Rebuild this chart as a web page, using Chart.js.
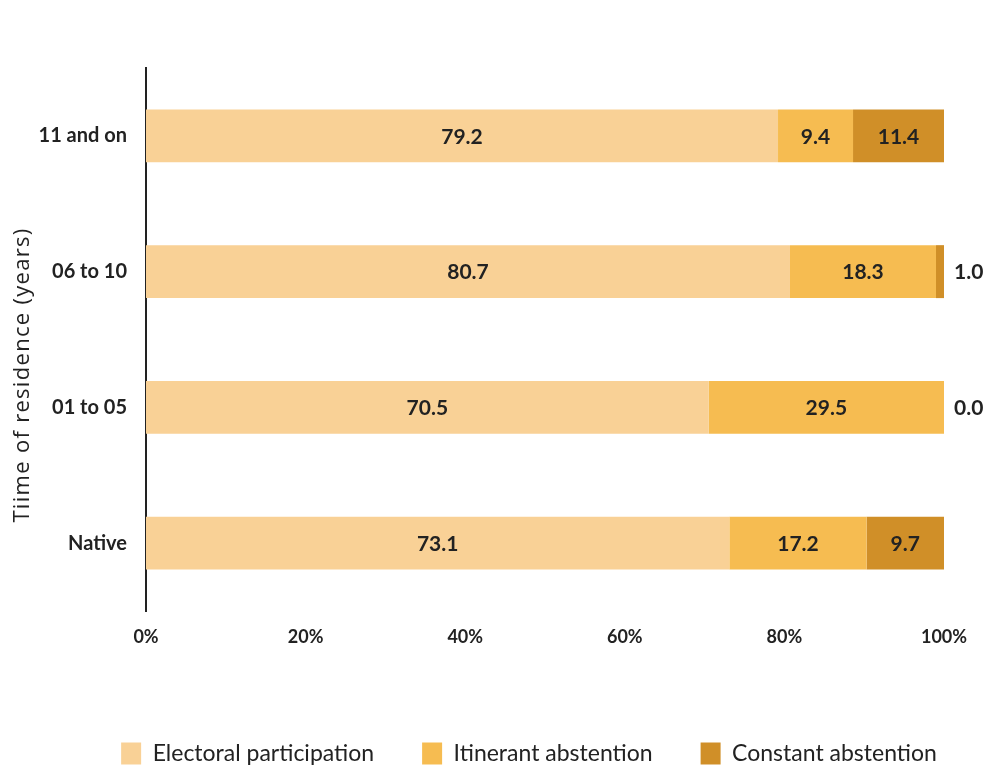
<!DOCTYPE html>
<html>
<head>
<meta charset="utf-8">
<script src="https://cdn.jsdelivr.net/npm/chart.js@4/dist/chart.umd.min.js"></script>
<style>
  html, body { margin: 0; padding: 0; background: #fff; }
  #wrap { width: 1000px; height: 775px; }
</style>
</head>
<body>
<div id="wrap"><canvas id="chart"></canvas></div>
<script>
// --- Data ---
const categories = ["11 and on", "06 to 10", "01 to 05", "Native"];
const electoral = [79.2, 80.7, 70.5, 73.1];
const itinerant = [9.4, 18.3, 29.5, 17.2];
const constant = [11.4, 1.0, 0.0, 9.7];
const xTicks = [0, 20, 40, 60, 80, 100];

const seriesNames = ["Electoral participation", "Itinerant abstention", "Constant abstention"];
const seriesColors = ["#F9D196", "#F6BC51", "#D08F28"];

const FONT = "Lato, 'Open Sans', sans-serif";

// draws the values on / next to each bar segment
const barLabels = {
  id: "barLabels",
  afterDatasetsDraw(chart) {
    const ctx = chart.ctx;
    ctx.save();
    ctx.font = "bold 21px " + FONT;
    ctx.fillStyle = "#222";
    ctx.textBaseline = "middle";
    chart.data.datasets.forEach((ds, i) => {
      chart.getDatasetMeta(i).data.forEach((bar, j) => {
        const v = ds.data[j];
        const txt = v.toFixed(1);
        if (v >= 5) {
          ctx.textAlign = "center";
          ctx.fillText(txt, (bar.x + bar.base) / 2, bar.y + 1);
        } else {
          ctx.textAlign = "left";
          ctx.fillText(txt, bar.x + 10, bar.y + 1);
        }
      });
    });
    ctx.restore();
  },
};

// y axis title, placed like the original
const yTitle = {
  id: "yTitle",
  afterDraw(chart) {
    const ctx = chart.ctx;
    ctx.save();
    ctx.translate(23, 375);
    ctx.rotate(-Math.PI / 2);
    ctx.font = "22px 'Open Sans', sans-serif";
    ctx.letterSpacing = "1.3px";
    ctx.fillStyle = "#222";
    ctx.textAlign = "center";
    ctx.textBaseline = "middle";
    ctx.fillText("Tiime of residence (years)", 0, 0);
    ctx.restore();
  },
};

// legend sits a bit right of the canvas centre in the original
const legendShift = {
  id: "legendShift",
  afterLayout(chart) {
    chart.legend.left += 57;
    chart.legend.right += 57;
  },
};

new Chart(document.getElementById("chart"), {
  type: "bar",
  data: {
    labels: categories,
    datasets: [electoral, itinerant, constant].map((d, i) => ({
      label: seriesNames[i],
      data: d,
      backgroundColor: seriesColors[i],
      borderWidth: 0,
      categoryPercentage: 1,
      barPercentage: 0.39,
    })),
  },
  options: {
    indexAxis: "y",
    responsive: true,
    maintainAspectRatio: false,
    animation: false,
    layout: { padding: { top: 68, right: 56, left: 0, bottom: 0 } },
    scales: {
      x: {
        stacked: true,
        min: 0,
        max: 100,
        afterBuildTicks: (scale) => {
          scale.ticks = xTicks.map((v) => ({ value: v }));
        },
        afterFit: (scale) => {
          scale.height = 83;
        },
        grid: { display: false, drawTicks: false },
        border: { display: false },
        ticks: {
          padding: 15,
          color: "#222",
          font: { family: FONT, size: 18, weight: "bold" },
          callback: (v) => v + "%",
        },
      },
      y: {
        stacked: true,
        afterFit: (scale) => {
          scale.width = 146;
        },
        grid: { display: false, drawTicks: false },
        border: { display: true, color: "#222", width: 2 },
        ticks: {
          padding: 19,
          color: "#222",
          font: { family: FONT, size: 20, weight: "bold" },
        },
      },
    },
    plugins: {
      tooltip: { enabled: false },
      legend: {
        position: "bottom",
        labels: {
          boxWidth: 20,
          boxHeight: 22,
          padding: 48,
          color: "#222",
          font: { family: FONT, size: 23 },
        },
      },
    },
  },
  plugins: [barLabels, yTitle, legendShift],
});
</script>
</body>
</html>
